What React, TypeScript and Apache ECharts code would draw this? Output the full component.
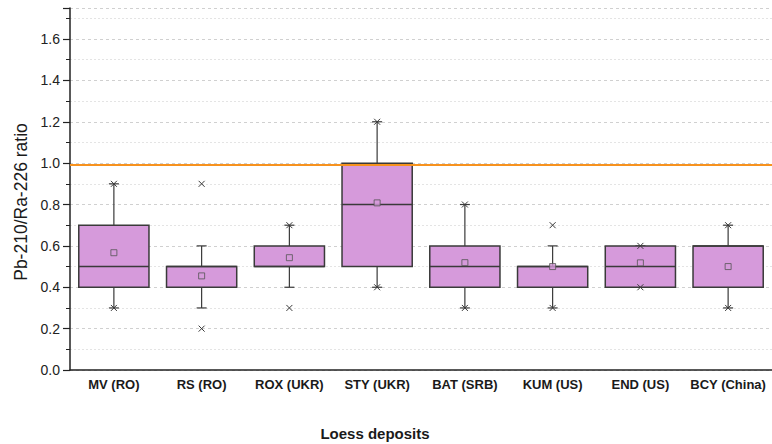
import React, { useEffect, useRef } from "react";
import * as echarts from "echarts";

const categories = ["MV (RO)", "RS (RO)", "ROX (UKR)", "STY (UKR)", "BAT (SRB)", "KUM (US)", "END (US)", "BCY (China)"];
const whiskerLow = [0.3, 0.3, 0.4, 0.4, 0.3, 0.3, 0.4, 0.3];
const q1 = [0.4, 0.4, 0.5, 0.5, 0.4, 0.4, 0.4, 0.4];
const median = [0.5, 0.5, 0.5, 0.8, 0.5, 0.5, 0.5, 0.6];
const q3 = [0.7, 0.5, 0.6, 1.0, 0.6, 0.5, 0.6, 0.6];
const whiskerHigh = [0.9, 0.6, 0.7, 1.2, 0.8, 0.6, 0.6, 0.7];
const means = [0.567, 0.455, 0.543, 0.808, 0.519, 0.5, 0.518, 0.5];
// min/max and outlier crosses: [category index, value]
const crossPoints: [number, number][] = [
  [0, 0.3], [0, 0.9],
  [1, 0.2], [1, 0.9],
  [2, 0.3], [2, 0.7],
  [3, 0.4], [3, 1.2],
  [4, 0.3], [4, 0.8],
  [5, 0.3], [5, 0.7],
  [6, 0.4], [6, 0.6],
  [7, 0.3], [7, 0.7],
];
const referenceLine = 0.99;
const yTicks = { min: 0, max: 1.75, interval: 0.2 };

const BOX_FILL = "#D69ADB";
const EDGE = "#3a3a3a";
const FONT = "'Liberation Sans', Arial, sans-serif";

export default function App() {
  const ref = useRef<HTMLDivElement>(null);
  useEffect(() => {
    if (!ref.current) return;
    const chart = echarts.init(ref.current, null, { renderer: "svg" });
    const boxData = categories.map((_, i) => [i, whiskerLow[i], q1[i], median[i], q3[i], whiskerHigh[i]]);
    chart.setOption({
      animation: false,
      backgroundColor: "#ffffff",
      grid: { left: 70, right: 0, top: 8, bottom: 74, containLabel: false },
      xAxis: {
        type: "category",
        data: categories,
        boundaryGap: true,
        axisLine: { lineStyle: { color: "#222", width: 1.5 } },
        axisTick: { alignWithLabel: true, length: 6, lineStyle: { color: "#222", width: 1.2 } },
        axisLabel: { interval: 0, fontFamily: FONT, fontSize: 13, fontWeight: "bold", color: "#1a1a1a", margin: 8 },
        splitLine: { show: false },
      },
      yAxis: {
        type: "value",
        min: yTicks.min,
        max: yTicks.max,
        interval: yTicks.interval,
        axisLine: { show: true, lineStyle: { color: "#222", width: 1.5 } },
        axisTick: { show: true, length: 7, lineStyle: { color: "#222", width: 1.2 } },
        minorTick: { show: true, splitNumber: 2, length: 4, lineStyle: { color: "#222", width: 1 } },
        axisLabel: {
          fontFamily: FONT, fontSize: 14, color: "#222", margin: 10, showMaxLabel: false,
          formatter: (v: number) => v.toFixed(1),
        },
        splitLine: { show: true, lineStyle: { color: "#d0d0d0", type: [3, 3], width: 1 } },
        minorSplitLine: { show: true, lineStyle: { color: "#e4e4e4", type: [2, 2], width: 1 } },
      },
      graphic: [
        {
          type: "text",
          x: 21,
          y: 202,
          rotation: Math.PI / 2,
          style: {
            text: "Pb-210/Ra-226 ratio",
            fontFamily: FONT,
            fontSize: 17.5,
            fill: "#1a1a1a",
            align: "center",
            verticalAlign: "middle",
          },
        },
        {
          type: "text",
          x: 375,
          y: 433,
          style: {
            text: "Loess deposits",
            fontFamily: FONT,
            fontSize: 15,
            fontWeight: "bold",
            fill: "#1a1a1a",
            align: "center",
            verticalAlign: "middle",
          },
        },
      ],
      series: [
        {
          type: "custom",
          name: "box",
          data: boxData,
          encode: { x: 0, y: [1, 2, 3, 4, 5] },
          z: 3,
          renderItem: (params: any, api: any) => {
            const idx = api.value(0);
            const lo = api.coord([idx, api.value(1)]);
            const b1 = api.coord([idx, api.value(2)]);
            const md = api.coord([idx, api.value(3)]);
            const b3 = api.coord([idx, api.value(4)]);
            const hi = api.coord([idx, api.value(5)]);
            const band = api.size([1, 0])[0];
            const w = band * 0.8;
            const cap = 5;
            const x = lo[0];
            const line = { stroke: EDGE, lineWidth: 1.2 };
            return {
              type: "group",
              children: [
                { type: "line", shape: { x1: x, y1: lo[1], x2: x, y2: b1[1] }, style: line },
                { type: "line", shape: { x1: x, y1: b3[1], x2: x, y2: hi[1] }, style: line },
                { type: "line", shape: { x1: x - cap, y1: lo[1], x2: x + cap, y2: lo[1] }, style: line },
                { type: "line", shape: { x1: x - cap, y1: hi[1], x2: x + cap, y2: hi[1] }, style: line },
                {
                  type: "rect",
                  shape: { x: x - w / 2, y: b3[1], width: w, height: b1[1] - b3[1] },
                  style: { fill: BOX_FILL, stroke: EDGE, lineWidth: 1.5 },
                },
                {
                  type: "line",
                  shape: { x1: x - w / 2, y1: md[1], x2: x + w / 2, y2: md[1] },
                  style: { stroke: EDGE, lineWidth: 1.5 },
                },
              ],
            };
          },
          markLine: {
            silent: true,
            symbol: "none",
            label: { show: false },
            lineStyle: { color: "#F7921E", width: 2.2, type: "solid" },
            data: [{ yAxis: referenceLine }],
          },
        },
        {
          type: "custom",
          name: "crosses",
          data: crossPoints,
          z: 4,
          renderItem: (params: any, api: any) => {
            const p = api.coord([api.value(0), api.value(1)]);
            const s = 3;
            const st = { stroke: EDGE, lineWidth: 1 };
            return {
              type: "group",
              children: [
                { type: "line", shape: { x1: p[0] - s, y1: p[1] - s, x2: p[0] + s, y2: p[1] + s }, style: st },
                { type: "line", shape: { x1: p[0] - s, y1: p[1] + s, x2: p[0] + s, y2: p[1] - s }, style: st },
              ],
            };
          },
        },
        {
          type: "scatter",
          name: "mean",
          data: means.map((m, i) => [i, m]),
          symbol: "rect",
          symbolSize: 6,
          z: 5,
          itemStyle: { color: BOX_FILL, borderColor: "#555", borderWidth: 1 },
        },
      ],
    });
    return () => chart.dispose();
  }, []);
  return <div ref={ref} style={{ position: "fixed", left: 0, top: 0, width: 772, height: 444 }} />;
}
